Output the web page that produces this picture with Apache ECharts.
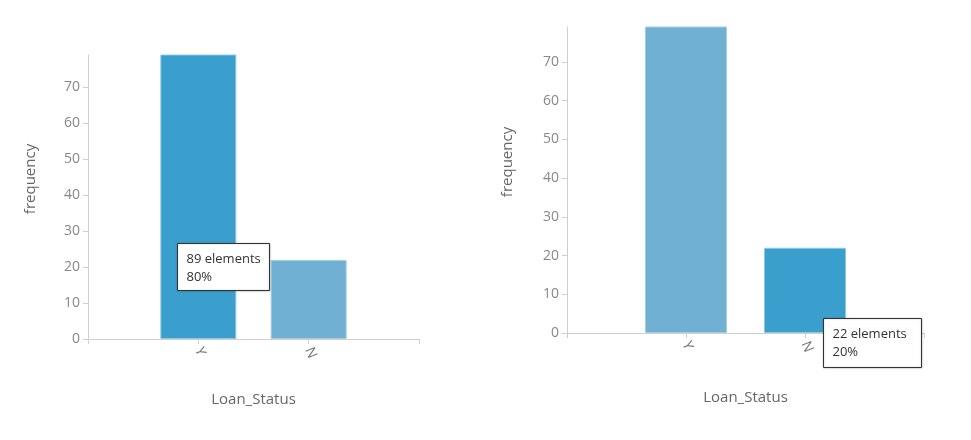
<!DOCTYPE html>
<html>
<head>
<meta charset="utf-8">
<script src="https://cdn.jsdelivr.net/npm/echarts@6/dist/echarts.min.js"></script>
<style>
  html, body { margin: 0; padding: 0; background: #fff; }
  #echart { width: 971px; height: 440px; }
</style>
</head>
<body>
<div id="echart"></div>
<script>
// data
var categories = ['', 'Y', 'N', ''];
var counts = [null, 89, 22, null];
var yMax = 79;
var yStep = 10;
var xName = 'Loan_Status';
var yName = 'frequency';

var darkBlue = '#3a9fcc';
var lightBlue = '#70b0d2';
var font = 'Open Sans';

var total = 0;
for (var i = 0; i < counts.length; i++) {
    if (counts[i] != null) total += counts[i];
}

function barData(hiIndex) {
    var out = [];
    for (var i = 0; i < counts.length; i++) {
        if (counts[i] == null) { out.push(null); continue; }
        var c = i == hiIndex ? darkBlue : lightBlue;
        out.push({ value: counts[i], itemStyle: { color: c, borderColor: i == hiIndex ? '#8cc8e4' : '#a6cde2', borderWidth: 1 } });
    }
    return out;
}

function tipText(idx) {
    return counts[idx] + ' elements\n' + Math.round(counts[idx] / total * 100) + '%';
}

function xAxisOpt(gi, gap) {
    return {
        gridIndex: gi,
        type: 'category',
        data: categories,
        boundaryGap: false,
        name: xName,
        nameLocation: 'middle',
        nameGap: gap,
        nameTextStyle: { color: '#666', fontSize: 15, fontFamily: font },
        axisLine: { lineStyle: { color: '#cfcfcf' } },
        axisTick: { length: 5, lineStyle: { color: '#cfcfcf' } },
        axisLabel: { rotate: -68, color: '#777', fontSize: 14, fontFamily: font, margin: 9 }
    };
}

function yAxisOpt(gi, gap, lift) {
    return {
        gridIndex: gi,
        type: 'value',
        min: 0,
        max: yMax,
        interval: yStep,
        name: yName,
        nameLocation: 'middle',
        nameGap: gap,
        // name sits above the middle of the visible axis
        nameTextStyle: { color: '#666', fontSize: 15, fontFamily: font, padding: [0, 0, 0, lift] },
        axisLine: { show: true, lineStyle: { color: '#cfcfcf' } },
        axisTick: { show: true, length: 5, lineStyle: { color: '#cfcfcf' } },
        axisLabel: { color: '#888', fontSize: 14, fontFamily: font, margin: 8, showMaxLabel: false },
        splitLine: { show: false }
    };
}

function tipBox(x, y, w, h, idx) {
    return {
        type: 'group', left: x, top: y, z: 100,
        children: [
            { type: 'rect', z: 100, shape: { x: 0, y: 0, width: w, height: h },
              style: { fill: '#fff', stroke: '#333', lineWidth: 1, shadowBlur: 2, shadowColor: 'rgba(0,0,0,0.25)' } },
            { type: 'text', z: 101, x: 9, y: 7,
              style: { text: tipText(idx), fill: '#333', fontSize: 13, fontFamily: font, lineHeight: 18 } }
        ]
    };
}

var dom = document.getElementById('echart');
var myChart = echarts.init(dom, null, { renderer: 'canvas' });

var option = {
    animation: false,
    backgroundColor: '#fff',
    grid: [
        { left: 88, top: 55, width: 331, height: 284 },
        { left: 567, top: 27, width: 357, height: 306 }
    ],
    xAxis: [xAxisOpt(0, 53), xAxisOpt(1, 57)],
    yAxis: [yAxisOpt(0, 50, 36), yAxisOpt(1, 52, 36)],
    series: [
        { type: 'bar', xAxisIndex: 0, yAxisIndex: 0, barWidth: 76, data: barData(1) },
        { type: 'bar', xAxisIndex: 1, yAxisIndex: 1, barWidth: 82, data: barData(2) }
    ],
    graphic: [
        tipBox(177, 243, 92, 47, 1),
        tipBox(823, 318, 98, 49, 2)
    ]
};

myChart.setOption(option);
</script>
</body>
</html>
